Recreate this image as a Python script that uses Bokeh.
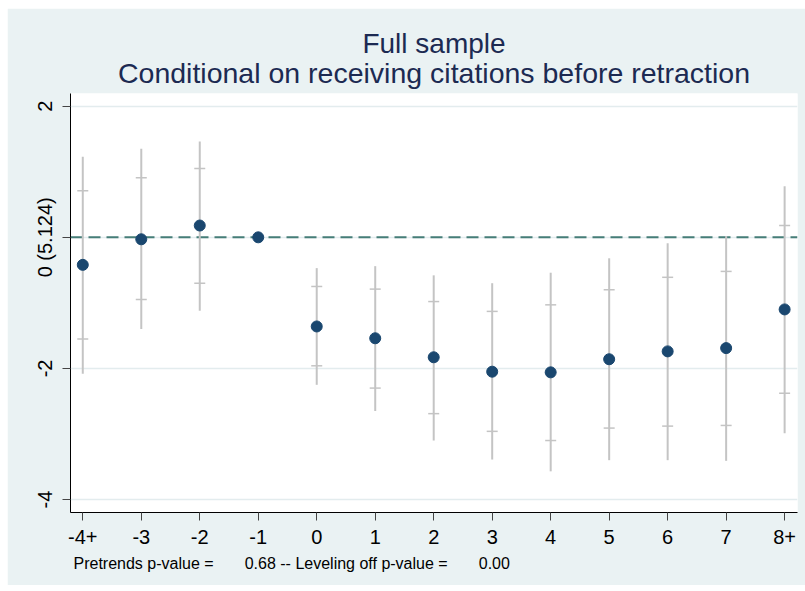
from bokeh.plotting import figure
from bokeh.models import FixedTicker, Span, Title, Range1d, ColumnDataSource
from bokeh.embed import file_html
from bokeh.resources import INLINE

nan = float("nan")

# Event time relative to retraction (end bins pooled)
rel_time = [-4, -3, -2, -1, 0, 1, 2, 3, 4, 5, 6, 7, 8]
time_labels = ["-4+", "-3", "-2", "-1", "0", "1", "2", "3", "4", "5", "6", "7", "8+"]

# Point estimates (period -1 is the omitted reference)
coef = [-0.42, -0.03, 0.18, 0.0, -1.36, -1.54, -1.83, -2.05, -2.06, -1.86, -1.74, -1.69, -1.10]

# Wide confidence interval (whiskers)
ci_wide_lo = [-2.08, -1.40, -1.12, nan, -2.25, -2.65, -3.10, -3.39, -3.57, -3.40, -3.40, -3.41, -2.99]
ci_wide_hi = [1.23, 1.35, 1.46, nan, -0.47, -0.44, -0.58, -0.70, -0.54, -0.32, -0.09, 0.02, 0.78]

# Narrow confidence interval (cap marks)
ci_narrow_lo = [-1.55, -0.95, -0.70, nan, -1.96, -2.30, -2.69, -2.96, -3.10, -2.91, -2.88, -2.87, -2.38]
ci_narrow_hi = [0.71, 0.91, 1.05, nan, -0.75, -0.79, -0.98, -1.13, -1.03, -0.80, -0.61, -0.52, 0.18]

y_ticks = [-4, -2, 0, 2]
y_tick_labels = ["-4", "-2", "0 (5.124)", "2"]

title_main = "Full sample"
title_sub = "Conditional on receiving citations before retraction"

pretrend_p = "0.68"
leveling_p = "0.00"

FONT = "Liberation Sans"
BG = "#EAF2F3"
NAVY = "#1A476F"
WHISKER = "#C4C4C4"
TITLE_COLOR = "#1C2A52"

src = ColumnDataSource(dict(
    t=rel_time, b=coef,
    lo=ci_wide_lo, hi=ci_wide_hi,
    nlo=ci_narrow_lo, nhi=ci_narrow_hi,
))

p = figure(
    width=798, height=577,
    x_range=Range1d(-4.21, 8.22), y_range=Range1d(-4.198, 2.194),
    output_backend="svg", toolbar_location=None,
    background_fill_color="white", border_fill_color=BG,
    min_border_left=63, min_border_right=8, min_border_top=85, min_border_bottom=73,
)
p.margin = (8, 0, 6, 7)
p.outline_line_color = None

# grid
p.xgrid.visible = False
p.ygrid.ticker = FixedTicker(ticks=y_ticks)
p.ygrid.grid_line_color = "#E3ECEE"
p.ygrid.grid_line_width = 1.5

# axes
p.xaxis.ticker = FixedTicker(ticks=rel_time)
p.xaxis.major_label_overrides = {t: lab for t, lab in zip(rel_time, time_labels)}
p.yaxis.ticker = FixedTicker(ticks=y_ticks)
p.yaxis.major_label_overrides = {t: lab for t, lab in zip(y_ticks, y_tick_labels)}
p.yaxis.major_label_orientation = "vertical"
for ax in (p.xaxis, p.yaxis):
    ax.axis_line_color = "black"
    ax.axis_line_width = 1
    ax.major_tick_line_color = "#444444"
    ax.major_tick_out = 8
    ax.major_tick_in = 0
    ax.minor_tick_line_color = None
    ax.major_label_text_font = FONT
    ax.major_label_text_font_size = "20px"
    ax.major_label_text_color = "black"
p.xaxis.major_label_standoff = 9
p.yaxis.major_label_standoff = 6

# reference line at zero
zero = Span(location=0, dimension="width", line_color="#467E78",
            line_width=2, line_dash="12 6", level="underlay")
p.add_layout(zero)

# intervals and estimates
p.segment(x0="t", y0="lo", x1="t", y1="hi", source=src, line_color=WHISKER, line_width=2)
p.scatter(x="t", y="nlo", source=src, marker="dash", size=11, line_color=WHISKER, line_width=1.5)
p.scatter(x="t", y="nhi", source=src, marker="dash", size=11, line_color=WHISKER, line_width=1.5)
p.scatter(x="t", y="b", source=src, marker="circle", size=11,
          fill_color=NAVY, line_color=NAVY)

# two-line title, tightly stacked
p.add_layout(Title(text=title_sub,
                   align="center", text_font=FONT, text_font_size="28.5px",
                   text_font_style="normal", text_color=TITLE_COLOR, standoff=10), "above")
p.add_layout(Title(text=title_main,
                   align="center", text_font=FONT, text_font_size="28px",
                   text_font_style="normal", text_color=TITLE_COLOR, standoff=-18), "above")

# note with test p-values (values padded to a fixed width)
pad = "\u00a0" * 6
note = f"Pretrends p-value = {pad}{pretrend_p} -- Leveling off p-value = {pad}{leveling_p}"
p.add_layout(Title(text=note, align="left", offset=3, text_font=FONT,
                   text_font_size="16px", text_font_style="normal",
                   text_color="black", standoff=12), "below")

open("out.html", "w").write(file_html(p, INLINE))
